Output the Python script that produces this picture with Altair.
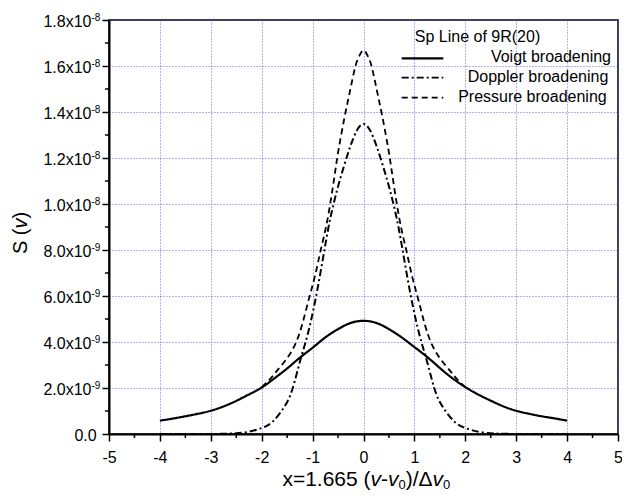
import altair as alt
import pandas as pd

# ---------------- data (S values in units of 1e-9) ----------------
voigt_x = [-4, -3.75, -3.5, -3.25, -3, -2.75, -2.5, -2.25, -2, -1.75, -1.5, -1.25, -1, -0.75,
           -0.5, -0.25, 0, 0.25, 0.5, 0.75, 1, 1.25, 1.5, 1.75, 2, 2.25, 2.5, 2.75, 3, 3.25,
           3.5, 3.75, 4]
voigt_y = [0.58, 0.67, 0.77, 0.88, 1.01, 1.2, 1.44, 1.72, 2.02, 2.42, 2.85, 3.32, 3.75, 4.2,
           4.56, 4.83, 4.92, 4.83, 4.56, 4.2, 3.78, 3.35, 2.87, 2.42, 2.04, 1.72, 1.45, 1.2,
           1.01, 0.88, 0.77, 0.68, 0.58]

doppler_x = [-4, -3, -2.6, -2.3, -2.0, -1.78, -1.55, -1.39, -1.23, -1.1, -0.93, -0.76, -0.65,
             -0.52, -0.39, -0.26, -0.13, 0, 0.13, 0.26, 0.39, 0.52, 0.65, 0.76, 0.93, 1.1,
             1.23, 1.39, 1.55, 1.78, 2.0, 2.3, 2.6, 3, 4]
doppler_y = [0, 0.003, 0.02, 0.08, 0.26, 0.55, 1.2, 2.0, 3.3, 4.3, 6.0, 8.1, 9.4,
             10.6, 11.6, 12.5, 13.2, 13.48, 13.2, 12.5, 11.6, 10.6, 9.4, 8.1, 6.0, 4.3,
             3.3, 2.0, 1.2, 0.55, 0.26, 0.08, 0.02, 0.003, 0]

pressure_x = [-2.0, -1.85, -1.71, -1.5, -1.33, -1.2, -1.07, -0.95, -0.84, -0.71, -0.58,
              -0.49, -0.37, -0.26, -0.16, -0.08, 0, 0.08, 0.16, 0.26, 0.37, 0.49, 0.58,
              0.71, 0.84, 0.95, 1.07, 1.2, 1.33, 1.5, 1.71, 1.85, 2.0]
pressure_y = [2.04, 2.35, 2.72, 3.3, 3.96, 4.8, 5.9, 6.9, 8.0, 9.3, 11.06,
              12.36, 13.8, 14.97, 15.98, 16.45, 16.68, 16.45, 15.98, 14.97, 13.8, 12.36, 11.06,
              9.3, 8.0, 6.9, 5.9, 4.8, 3.96, 3.3, 2.72, 2.35, 2.04]

series_names = ["Voigt broadening", "Doppler broadening", "Pressure broadening"]
legend_title = "Sp Line of 9R(20)"

x_major = [-5, -4, -3, -2, -1, 0, 1, 2, 3, 4, 5]
x_minor = [-4.5, -3.5, -2.5, -1.5, -0.5, 0.5, 1.5, 2.5, 3.5, 4.5]
y_major = [0, 2, 4, 6, 8, 10, 12, 14, 16, 18]
y_minor = [1, 3, 5, 7, 9, 11, 13, 15, 17]
y_mant = ["0.0", "2.0x10", "4.0x10", "6.0x10", "8.0x10", "1.0x10", "1.2x10", "1.4x10", "1.6x10", "1.8x10"]
y_exp = ["", "-9", "-9", "-9", "-9", "-8", "-8", "-8", "-8", "-8"]

# ---------------- layout / style ----------------
W, H = 509, 414
LEFT = 101          # padding -> plot origin at page x = 109
FONT = "Liberation Sans"
dash_styles = [[1, 0], [7, 3, 2, 3], [6, 4]]
widths = [2.2, 1.8, 1.8]

rows = []
for name, xs, ys in zip(series_names, [voigt_x, doppler_x, pressure_x],
                        [voigt_y, doppler_y, pressure_y]):
    for a, b in zip(xs, ys):
        rows.append({"series": name, "x": a, "y": b})
df = pd.DataFrame(rows)

xscale = alt.Scale(domain=[-5, 5], nice=False, zero=False)
yscale = alt.Scale(domain=[0, 18], nice=False, zero=False)

X_AXIS = alt.Axis(values=x_major, title=None, grid=True, tickSize=7, tickWidth=1.5,
                  tickColor="black", domainColor="black", domainWidth=2,
                  labelFontSize=16, labelFont=FONT, labelColor="black",
                  labelPadding=8, labelFlush=False, labelOverlap=False,
                  labelExpr="datum.value < 0 ? '-' + toString(abs(datum.value)) : toString(datum.value)")
Y_AXIS = alt.Axis(values=y_major, title=None, grid=True, labels=False, tickSize=7,
                  tickWidth=1.5, tickColor="black", domainColor="black", domainWidth=2)

lines = alt.Chart(df).mark_line(interpolate="natural", color="black").encode(
    x=alt.X("x:Q", scale=xscale, axis=X_AXIS),
    y=alt.Y("y:Q", scale=yscale, axis=Y_AXIS),
    strokeDash=alt.StrokeDash("series:N", scale=alt.Scale(domain=series_names, range=dash_styles),
                              legend=None),
    strokeWidth=alt.StrokeWidth("series:N", scale=alt.Scale(domain=series_names, range=widths),
                                legend=None),
)

# minor ticks
xminor = alt.Chart(pd.DataFrame({"x": x_minor})).mark_rule(color="black", strokeWidth=1.5).encode(
    x=alt.X("x:Q", scale=xscale, axis=X_AXIS), y=alt.value(H), y2=alt.value(H + 4))
yminor = alt.Chart(pd.DataFrame({"y": y_minor})).mark_rule(color="black", strokeWidth=1.5).encode(
    y=alt.Y("y:Q", scale=yscale, axis=Y_AXIS), x=alt.value(0), x2=alt.value(-4))

# y tick labels (mantissa + superscript exponent)
ylab_df = pd.DataFrame({"y": y_major, "mant": y_mant, "exp": y_exp})
ymant = alt.Chart(ylab_df).transform_filter("datum.exp != ''").mark_text(
    align="right", baseline="alphabetic", fontSize=16, font=FONT, dy=6.5, color="black").encode(
    y=alt.Y("y:Q", scale=yscale, axis=Y_AXIS), x=alt.value(-17.5), text="mant:N")
yexp = alt.Chart(ylab_df).transform_filter("datum.exp != ''").mark_text(
    align="left", baseline="alphabetic", fontSize=10, font=FONT, dy=0.5, color="black").encode(
    y=alt.Y("y:Q", scale=yscale, axis=Y_AXIS), x=alt.value(-17.5), text="exp:N")
yzero = alt.Chart(ylab_df).transform_filter("datum.exp == ''").mark_text(
    align="right", baseline="alphabetic", fontSize=16, font=FONT, dy=6.5, color="black").encode(
    y=alt.Y("y:Q", scale=yscale, axis=Y_AXIS), x=alt.value(-12.3), text="mant:N")

# Arial / Liberation Sans advance widths (per 1000 em)
adv = {"x": 500, "=": 584, "1": 556, ".": 278, "6": 556, "5": 556, " ": 278, "(": 333,
       ")": 333, "-": 333, "/": 278, "Δ": 667, "v": 500, "0": 556, "S": 667}


def text_w(s, size):
    return sum(adv.get(c, 556) for c in s) * size / 1000.0


def one(txt, **kw):
    return alt.Chart(pd.DataFrame({"t": [txt]})).mark_text(font=FONT, color="black", **kw).encode(
        text="t:N")


layers = [lines, xminor, yminor, ymant, yexp, yzero]

# x axis title pieces
xt_pieces = [("x=1.665 (", "normal", 21, 0), ("v", "italic", 21, 0), ("-", "normal", 21, 0),
             ("v", "italic", 21, 0), ("0", "normal", 13, 3.5), (")/Δ", "normal", 21, 0),
             ("v", "italic", 21, 0), ("0", "normal", 13, 3.5)]
cx = 173.4
for txt, style, size, drop in xt_pieces:
    layers.append(one(txt, align="left", baseline="alphabetic", fontSize=size, fontStyle=style)
                  .encode(x=alt.value(cx), y=alt.value(465.5 + drop)))
    cx += text_w(txt, size)

# y axis title pieces (rotated)
yt_pieces = [("S (", "normal"), ("v", "italic"), (")", "normal")]
cy = 234.1
for txt, style in yt_pieces:
    layers.append(one(txt, align="left", baseline="alphabetic", fontSize=20, fontStyle=style,
                      angle=270).encode(x=alt.value(-82.3), y=alt.value(cy)))
    cy -= text_w(txt, 20)

# legend
layers.append(one(legend_title, align="center", baseline="alphabetic", fontSize=16)
              .encode(x=alt.value(368.5), y=alt.value(22.3)))
leg_label_x = [502, 499.3, 497.7]
leg_label_y = [42.3, 62.3, 82.3]
leg_line_y = [38.3, 57.7, 77.7]
for i, name in enumerate(series_names):
    layers.append(one(name, align="right", baseline="alphabetic", fontSize=16)
                  .encode(x=alt.value(leg_label_x[i]), y=alt.value(leg_label_y[i])))
    layers.append(alt.Chart(pd.DataFrame({"a": [0]})).mark_rule(
        color="black", strokeWidth=widths[i], strokeDash=dash_styles[i]).encode(
        x=alt.value(292.7), x2=alt.value(334.3), y=alt.value(leg_line_y[i])))

chart = alt.layer(*layers).properties(
    width=W, height=H,
    autosize=alt.AutoSizeParams(type="none"),
    padding={"left": LEFT, "top": 12, "right": 4, "bottom": 60},
    background="white",
).configure_view(stroke="black", strokeWidth=1.5).configure_axis(
    gridColor="#4a4aff", gridDash=[1, 2], gridWidth=1, gridOpacity=0.85
)

chart.save("out.html", embed_options={"renderer": "svg", "actions": False})
